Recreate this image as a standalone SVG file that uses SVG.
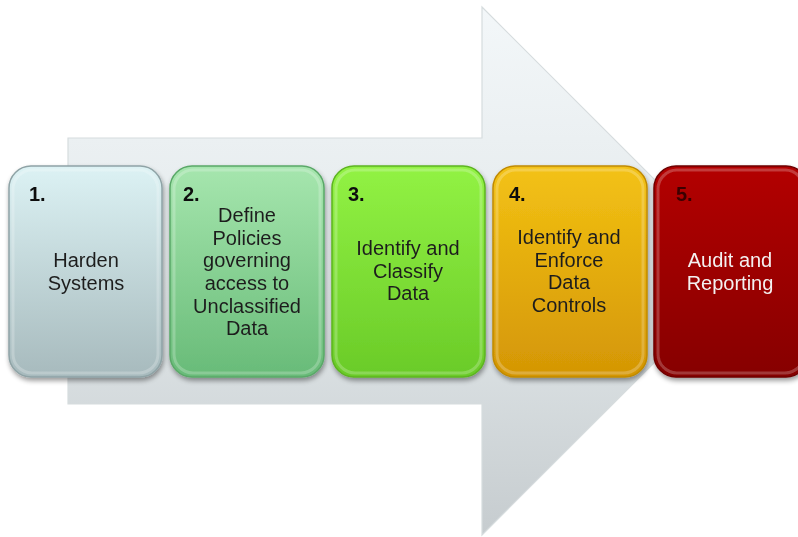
<svg xmlns="http://www.w3.org/2000/svg" width="798" height="537" viewBox="0 0 798 537">
  <defs>
    <linearGradient id="arrowFill" x1="0" y1="0" x2="0" y2="1">
      <stop offset="0" stop-color="#f3f7f9"/>
      <stop offset="0.5" stop-color="#e3e9eb"/>
      <stop offset="1" stop-color="#c6cccf"/>
    </linearGradient>
    <linearGradient id="g1" x1="0" y1="0" x2="0" y2="1">
      <stop offset="0" stop-color="#dcf2f4"/>
      <stop offset="1" stop-color="#a7babd"/>
    </linearGradient>
    <linearGradient id="g2" x1="0" y1="0" x2="0" y2="1">
      <stop offset="0" stop-color="#a6e6ae"/>
      <stop offset="1" stop-color="#68bb78"/>
    </linearGradient>
    <linearGradient id="g3" x1="0" y1="0" x2="0" y2="1">
      <stop offset="0" stop-color="#92f244"/>
      <stop offset="1" stop-color="#6acb28"/>
    </linearGradient>
    <linearGradient id="g4" x1="0" y1="0" x2="0" y2="1">
      <stop offset="0" stop-color="#f3c215"/>
      <stop offset="1" stop-color="#d49605"/>
    </linearGradient>
    <linearGradient id="g5" x1="0" y1="0" x2="0" y2="1">
      <stop offset="0" stop-color="#b30303"/>
      <stop offset="1" stop-color="#860000"/>
    </linearGradient>
    <filter id="shadow" x="-10%" y="-10%" width="130%" height="130%">
      <feGaussianBlur in="SourceAlpha" stdDeviation="2.5"/>
      <feOffset dx="1" dy="3" result="b"/>
      <feComponentTransfer><feFuncA type="linear" slope="0.4"/></feComponentTransfer>
      <feMerge><feMergeNode/><feMergeNode in="SourceGraphic"/></feMerge>
    </filter>
  </defs>
  <style>
    .box { filter: url(#shadow); }
    .rim { fill: none; stroke: #ffffff; stroke-opacity: 0.22; stroke-width: 3; }
    .num { font-family: "Liberation Sans", Arial, sans-serif; font-size: 20px; font-weight: bold; fill: #111; }
    .lbl { font-family: "Liberation Sans", Arial, sans-serif; font-size: 20px; fill: #1f1f1f; text-anchor: middle; }
  </style>

  <rect width="798" height="537" fill="#ffffff"/>

  <!-- big background arrow -->
  <g id="arrow">
    <path d="M68 138 H482 V7 L746 271 L482 535 V404 H68 Z" fill="url(#arrowFill)" stroke="#d6dcde" stroke-width="1.2"/>
  </g>

  <g id="connectors"/>

  <g id="step1" class="box">
    <rect x="9" y="166" width="153" height="211" rx="22" fill="url(#g1)" stroke="#8fa3a6" stroke-width="1.5"/>
    <rect class="rim" x="13" y="170" width="145" height="203" rx="19"/>
    <text class="num" x="29" y="201">1.</text>
    <text class="lbl" x="86" y="267">Harden</text>
    <text class="lbl" x="86" y="290">Systems</text>
  </g>

  <g id="step2" class="box">
    <rect x="170" y="166" width="154" height="211" rx="22" fill="url(#g2)" stroke="#5aa868" stroke-width="1.5"/>
    <rect class="rim" x="174" y="170" width="146" height="203" rx="19"/>
    <text class="num" x="183" y="201">2.</text>
    <text class="lbl" x="247" y="222">Define</text>
    <text class="lbl" x="247" y="245">Policies</text>
    <text class="lbl" x="247" y="267">governing</text>
    <text class="lbl" x="247" y="290">access to</text>
    <text class="lbl" x="247" y="313">Unclassified</text>
    <text class="lbl" x="247" y="335">Data</text>
  </g>

  <g id="step3" class="box">
    <rect x="332" y="166" width="153" height="211" rx="22" fill="url(#g3)" stroke="#5db420" stroke-width="1.5"/>
    <rect class="rim" x="336" y="170" width="145" height="203" rx="19"/>
    <text class="num" x="348" y="201">3.</text>
    <text class="lbl" x="408" y="255">Identify and</text>
    <text class="lbl" x="408" y="278">Classify</text>
    <text class="lbl" x="408" y="300">Data</text>
  </g>

  <g id="step4" class="box">
    <rect x="493" y="166" width="154" height="211" rx="22" fill="url(#g4)" stroke="#c08a04" stroke-width="1.5"/>
    <rect class="rim" x="497" y="170" width="146" height="203" rx="19"/>
    <text class="num" x="509" y="201">4.</text>
    <text class="lbl" x="569" y="244">Identify and</text>
    <text class="lbl" x="569" y="267">Enforce</text>
    <text class="lbl" x="569" y="289">Data</text>
    <text class="lbl" x="569" y="312">Controls</text>
  </g>

  <g id="step5" class="box">
    <rect x="654" y="166" width="154" height="211" rx="22" fill="url(#g5)" stroke="#6e0000" stroke-width="1.5"/>
    <rect class="rim" x="658" y="170" width="146" height="203" rx="19"/>
    <text class="num" x="676" y="201" style="fill:#3a0000">5.</text>
    <text class="lbl" x="730" y="267" style="fill:#f4f0f0">Audit and</text>
    <text class="lbl" x="730" y="290" style="fill:#f4f0f0">Reporting</text>
  </g>
</svg>
